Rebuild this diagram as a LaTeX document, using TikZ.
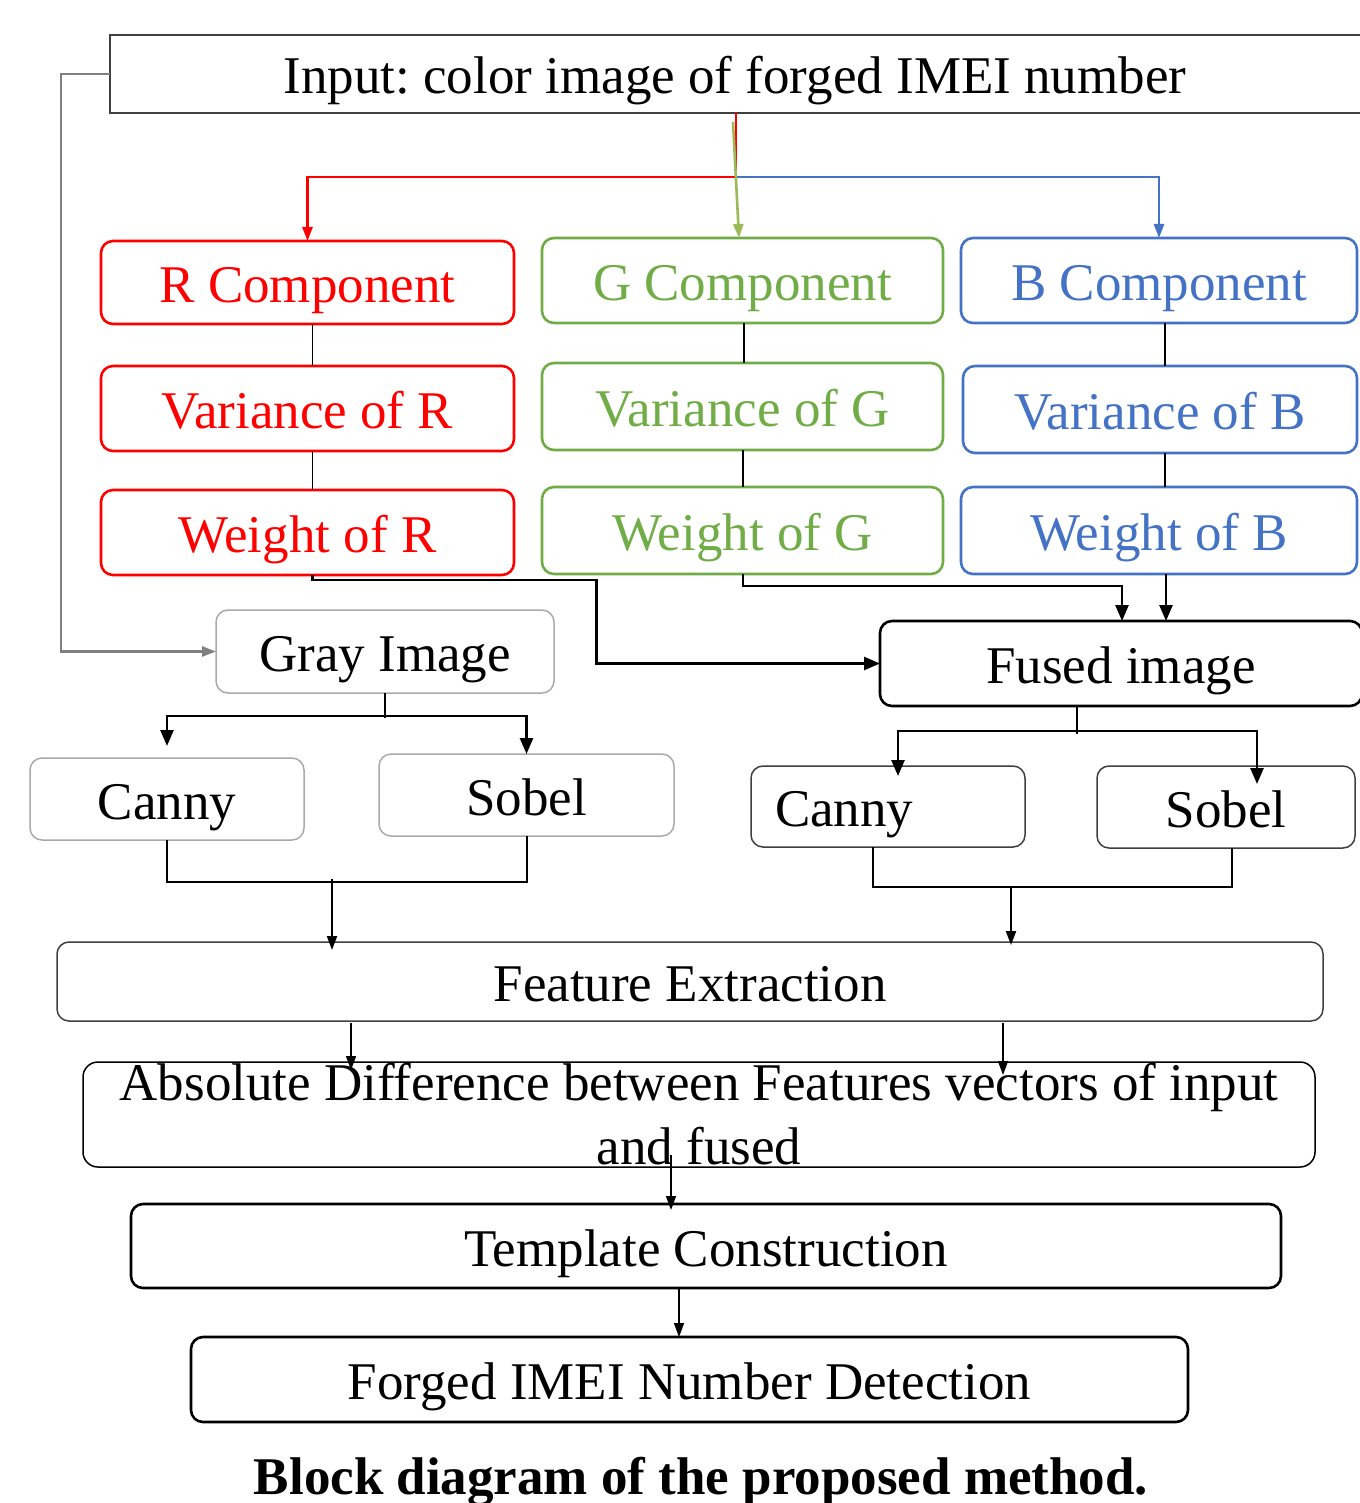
\documentclass[tikz,border=0pt]{standalone}
\usepackage{fontspec}
\setmainfont{Liberation Serif}
\usetikzlibrary{arrows.meta}
\frenchspacing

\definecolor{rcol}{RGB}{255,0,0}
\definecolor{gcol}{RGB}{112,173,71}
\definecolor{garr}{RGB}{155,187,89}
\definecolor{bcol}{RGB}{68,114,196}
\definecolor{lgray}{RGB}{170,170,170}
\definecolor{dgray}{RGB}{64,64,64}
\definecolor{mgray}{RGB}{128,128,128}

\tikzset{
  fnt/.style={font=\fontsize{53}{64}\selectfont, inner sep=0pt, outer sep=0pt},
  txt/.style={fnt, text height=46pt, text depth=6pt},
  blk/.style={txt, draw, rounded corners=12pt},
  rbox/.style={blk, draw=rcol, text=rcol, line width=2.6pt},
  gbox/.style={blk, draw=gcol, text=gcol, line width=2.6pt},
  bbox/.style={blk, draw=bcol, text=bcol, line width=2.6pt},
  lbox/.style={blk, draw=lgray, line width=1.5pt},
  dbox/.style={blk, draw=dgray, line width=1.5pt},
  kbox/.style={blk, draw=black, line width=2.6pt},
  thin/.style={draw=black, line width=1.5pt},
  thick/.style={draw=black, line width=2.6pt},
  tipS/.style={-{Triangle[length=14pt,width=10pt]}},
  tipL/.style={-{Triangle[length=16pt,width=13pt]}},
}

\begin{document}
\begin{tikzpicture}[x=1pt,y=-1pt]
\fill[white] (0,0) rectangle (1359,1503);
\useasboundingbox (0,0) rectangle (1359,1503);

% input (its box runs past the right edge of the page)
\node[txt, draw=dgray, line width=2pt, minimum width=1300pt, minimum height=78pt] (inp) at (760,74) {\hspace*{-50pt}Input: color image of forged IMEI number};

% colour channels
\node[rbox, minimum width=413pt, minimum height=83pt] (rc) at (307.5,282.5) {R Component};
\node[rbox, minimum width=413pt, minimum height=85pt] (vr) at (307.5,408.5) {Variance of R};
\node[rbox, minimum width=413pt, minimum height=85pt] (wr) at (307.5,532.5) {Weight of R};

\node[gbox, minimum width=401pt, minimum height=85pt] (gc) at (742.5,280.5) {G Component};
\node[gbox, minimum width=401pt, minimum height=87pt] (vg) at (742.5,406.5) {Variance of G};
\node[gbox, minimum width=401pt, minimum height=87pt] (wg) at (742.5,530.5) {Weight of G};

\node[bbox, minimum width=396pt, minimum height=85pt] (bc) at (1159,280.5) {B Component};
\node[bbox, minimum width=394pt, minimum height=87pt] (vb) at (1160,409.5) {Variance of B};
\node[bbox, minimum width=396pt, minimum height=87pt] (wb) at (1159,530.5) {Weight of B};

% gray and fused images
\node[lbox, minimum width=338pt, minimum height=83pt] (gray) at (385,651.5) {Gray Image};
\node[kbox, minimum width=482pt, minimum height=85pt] (fused) at (1121,663.5) {Fused image};

% edge detectors
\node[lbox, minimum width=274pt, minimum height=82pt] (canny1) at (167,799) {Canny};
\node[lbox, minimum width=295pt, minimum height=82pt] (sobel1) at (526.5,795) {Sobel};
\node[dbox, minimum width=274pt, minimum height=81pt, text width=226pt, align=left] (canny2) at (888,806.5) {Canny};
\node[dbox, minimum width=258pt, minimum height=82pt] (sobel2) at (1226,807) {Sobel};

% later stages
\node[dbox, minimum width=1266pt, minimum height=79pt] (fe) at (690,981.5) {Feature Extraction};
\node[fnt, draw=black, line width=1.5pt, rounded corners=15pt, minimum width=1232pt, minimum height=105pt, align=center] (absd) at (699,1114.5) {Absolute Difference between Features vectors of input\\and fused};
\node[kbox, minimum width=1150pt, minimum height=84pt] (tmpl) at (706,1246) {Template Construction};
\node[kbox, minimum width=997pt, minimum height=85pt] (forged) at (689.5,1379.5) {Forged IMEI Number Detection};

\node[font=\fontsize{53}{64}\selectfont\bfseries, anchor=base, inner sep=0pt] (cap) at (701,1494) {Block diagram of the proposed method.};

% input to channels
\draw[rcol, line width=2.6pt, tipS] ([xshift=-24pt]inp.south) -- ++(0,64) -| (rc.north);
\draw[bcol, line width=2.6pt, tipS] ([xshift=-24pt,yshift=-64pt]inp.south) -| (bc.north);
\draw[garr, line width=2.6pt, tipS] ([xshift=-27pt,yshift=-9pt]inp.south) -- ([xshift=-3.5pt]gc.north);
\draw[mgray, line width=2.6pt, tipS] (inp.west) -- ++(-49,0) |- (gray.west);

% within channels
\draw[thin] ([xshift=5pt]rc.south) -- ([xshift=5pt]vr.north);
\draw[thin] ([xshift=5pt]vr.south) -- ([xshift=5pt]wr.north);
\draw[thin] ([xshift=1.5pt]gc.south) -- ([xshift=1.5pt]vg.north);
\draw[thin] ([xshift=0.5pt]vg.south) -- ([xshift=0.5pt]wg.north);
\draw[thin] ([xshift=6pt]bc.south) -- ([xshift=5pt]vb.north);
\draw[thin] ([xshift=5pt]vb.south) -- ([xshift=6pt]wb.north);

% weights to fused image
\draw[thick, tipL] ([xshift=5pt]wr.south) -- ++(0,5) -- ++(284,0) |- (fused.west);
\draw[thick, tipL] ([xshift=0.5pt]wg.south) -- ++(0,12) -| ([xshift=1pt]fused.north);
\draw[thick, tipL] ([xshift=7pt]wb.south) -- ([xshift=7pt]wb.south |- fused.north);

% gray image to detectors
\draw[thin] (gray.south) -- ++(0,25);
\draw[thick, tipL] ([yshift=-23pt]gray.south) -| ([yshift=12pt]canny1.north);
\draw[thick, tipL] ([yshift=-23pt]gray.south) -| (sobel1.north);

% fused image to detectors
\draw[thin] ([xshift=-44pt]fused.south) -- ++(0,28);
\draw[thick, tipL] ([xshift=-44pt,yshift=-25pt]fused.south) -| ([xshift=10pt,yshift=-10pt]canny2.north);
\draw[thick, tipL] ([xshift=-44pt,yshift=-25pt]fused.south) -| ([xshift=31pt,yshift=-18pt]sobel2.north);

% detectors to feature extraction
\draw[line width=2pt] (canny1.south) -- ++(0,42) -| (sobel1.south);
\coordinate (m1) at (332,879);
\draw[line width=2pt, tipS] (m1) -- ([yshift=-8pt]m1 |- fe.north);
\draw[line width=2pt] ([xshift=-15pt]canny2.south) -- ++(0,40) -| ([xshift=6pt]sobel2.south);
\coordinate (m2) at (1011,886);
\draw[line width=2pt, tipS] (m2) -- ([yshift=-3pt]m2 |- fe.north);

% feature extraction onwards
\draw[thin, tipS] ([xshift=-339pt,yshift=-2pt]fe.south) -- ([xshift=-348pt,yshift=-8pt]absd.north);
\draw[thin, tipS] ([xshift=313pt,yshift=-2pt]fe.south) -- ([xshift=304pt,yshift=-13pt]absd.north);
\draw[thin, tipS] ([xshift=-28pt,yshift=12pt]absd.south) -- ([xshift=-35pt,yshift=-6pt]tmpl.north);
\draw[thin, tipS] ([xshift=-27pt]tmpl.south) -- ([xshift=-10.5pt]forged.north);
\end{tikzpicture}
\end{document}
